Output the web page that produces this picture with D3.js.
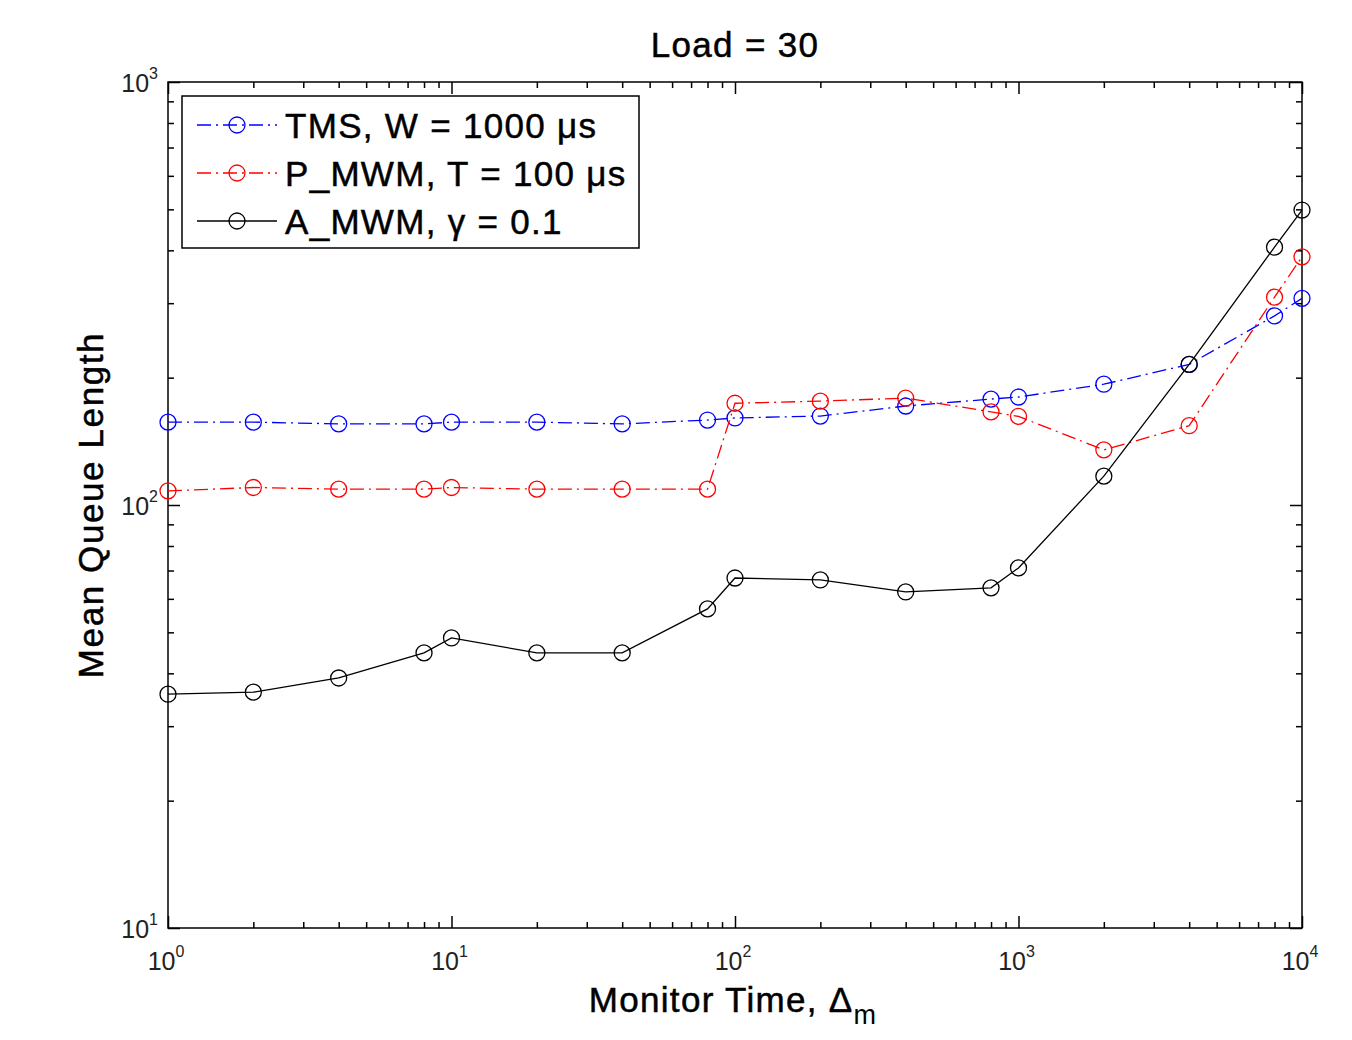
<!DOCTYPE html>
<html>
<head>
<meta charset="utf-8">
<style>
  body { margin: 0; background: #fff; font-family: "Liberation Sans", Arial, sans-serif; }
  .big { stroke: #000; stroke-width: 0.5px; letter-spacing: 1.3px; }
</style>
<title>Load = 30</title>
</head>
<body>
<script src="https://cdn.jsdelivr.net/npm/d3@7"></script>
<script>
// monitor time values (x) shared by all series
var monitorTime = [1, 2, 4, 8, 10, 20, 40, 80, 100, 200, 400, 800, 1000, 2000, 4000, 8000, 10000];
var tmsQueue   = [157, 157, 155.5, 155.5, 157, 157, 155.5, 158.8, 160.6, 162.3, 171.4, 178, 180, 193, 215, 280, 308];
var pmwmQueue  = [108, 110, 109, 109, 110, 109, 109, 109, 174, 176, 179, 166, 162, 135, 154, 310, 386];
var amwmQueue  = [35.7, 36.1, 39.0, 44.7, 48.5, 44.7, 44.7, 56.8, 67.2, 66.5, 62.3, 63.7, 71.0, 117, 215, 407, 498];
var seriesNames = ["TMS, W = 1000 \u03bcs", "P_MWM, T = 100 \u03bcs", "A_MWM, \u03b3 = 0.1"];
var xMajor = [1, 10, 100, 1000, 10000];
var yMajor = [10, 100, 1000];

var W = 1352, H = 1040;
var margin = {top: 82, right: 50, bottom: 112, left: 168};
var width = W - margin.left - margin.right,
    height = H - margin.top - margin.bottom;

var svg = d3.select("body").append("svg")
    .attr("width", W)
    .attr("height", H);

var g = svg.append("g")
    .attr("transform", "translate(" + margin.left + "," + margin.top + ")");

var x = d3.scaleLog().domain([1, 10000]).range([0, width]);
var y = d3.scaleLog().domain([10, 1000]).range([height, 0]);

// minor ticks for log scale
function minors(lo, hi) {
  var out = [];
  for (var d = lo; d < hi; d *= 10)
    for (var k = 2; k <= 9; k++) out.push(d * k);
  return out;
}
var xMinor = minors(1, 10000);
var yMinor = minors(10, 1000);

function tickAxis(axisFn, scale, vals, size, tr) {
  g.append("g")
    .attr("transform", tr)
    .call(axisFn(scale).tickValues(vals).tickSizeInner(size).tickSizeOuter(0).tickFormat(""))
    .call(a => a.select(".domain").remove())
    .selectAll("line").attr("stroke", "#000").attr("stroke-width", 1.5);
}
// ticks point inwards on all four sides
tickAxis(d3.axisBottom, x, xMajor, -12, "translate(0," + height + ")");
tickAxis(d3.axisBottom, x, xMinor, -6, "translate(0," + height + ")");
tickAxis(d3.axisTop, x, xMajor, -12, "translate(0,0)");
tickAxis(d3.axisTop, x, xMinor, -6, "translate(0,0)");
tickAxis(d3.axisLeft, y, yMajor, -12, "translate(0,0)");
tickAxis(d3.axisLeft, y, yMinor, -6, "translate(0,0)");
tickAxis(d3.axisRight, y, yMajor, -12, "translate(" + width + ",0)");
tickAxis(d3.axisRight, y, yMinor, -6, "translate(" + width + ",0)");

g.append("rect")
  .attr("width", width).attr("height", height)
  .attr("fill", "none").attr("stroke", "#000").attr("stroke-width", 1.5);

// tick labels as 10^n
xMajor.forEach(function(v) {
  var t = g.append("text")
    .attr("x", x(v) - 2).attr("y", height + 42)
    .attr("text-anchor", "middle")
    .attr("font-size", 25).attr("fill", "#222");
  t.append("tspan").text("10");
  t.append("tspan").attr("dy", -13).attr("font-size", 16).text(Math.round(Math.log10(v)));
});
yMajor.forEach(function(v) {
  var t = g.append("text")
    .attr("x", -10).attr("y", y(v) + 10)
    .attr("text-anchor", "end")
    .attr("font-size", 25).attr("fill", "#222");
  t.append("tspan").text("10");
  t.append("tspan").attr("dy", -13).attr("font-size", 16).text(Math.round(Math.log10(v)));
});

// title and axis labels
svg.append("text").attr("class", "big")
  .attr("x", margin.left + width / 2).attr("y", 57)
  .attr("text-anchor", "middle").attr("font-size", 35)
  .text("Load = 30");

var xl = svg.append("text").attr("class", "big")
  .attr("x", margin.left + width / 2 - 2).attr("y", 1012)
  .attr("text-anchor", "middle").attr("font-size", 35);
xl.append("tspan").text("Monitor Time, \u0394");
xl.append("tspan").attr("dy", 12).attr("font-size", 27).style("stroke-width", "0px").text("m");

svg.append("text").attr("class", "big")
  .attr("transform", "translate(103," + (margin.top + height / 2) + ") rotate(-90)")
  .attr("text-anchor", "middle").attr("font-size", 35)
  .style("letter-spacing", "1.6px")
  .text("Mean Queue Length");

var series = [
  {name: seriesNames[0], vals: tmsQueue,  color: "#0000ff", dash: "14,5,2,5"},
  {name: seriesNames[1], vals: pmwmQueue, color: "#ff0000", dash: "14,5,2,5"},
  {name: seriesNames[2], vals: amwmQueue, color: "#000000", dash: null}
];

var line = d3.line()
  .x(function(d) { return x(d[0]); })
  .y(function(d) { return y(d[1]); });

series.forEach(function(s) {
  var pts = monitorTime.map(function(t, i) { return [t, s.vals[i]]; });
  g.append("path").datum(pts)
    .attr("d", line)
    .attr("fill", "none")
    .attr("stroke", s.color)
    .attr("stroke-width", 1.3)
    .attr("stroke-dasharray", s.dash);
  g.selectAll(null).data(pts).enter().append("circle")
    .attr("cx", function(d) { return x(d[0]); })
    .attr("cy", function(d) { return y(d[1]); })
    .attr("r", 8)
    .attr("fill", "none")
    .attr("stroke", s.color)
    .attr("stroke-width", 1.3);
});

// legend
var legend = svg.append("g").attr("transform", "translate(182,96)");
legend.append("rect")
  .attr("width", 457).attr("height", 152)
  .attr("fill", "#fff").attr("stroke", "#000").attr("stroke-width", 1.5);
series.forEach(function(s, i) {
  var yy = 29 + i * 48;
  legend.append("line")
    .attr("x1", 15).attr("x2", 95).attr("y1", yy).attr("y2", yy)
    .attr("stroke", s.color).attr("stroke-width", 1.3)
    .attr("stroke-dasharray", s.dash);
  legend.append("circle")
    .attr("cx", 55).attr("cy", yy).attr("r", 8)
    .attr("fill", "none").attr("stroke", s.color).attr("stroke-width", 1.3);
  legend.append("text").attr("class", "big")
    .attr("x", 103).attr("y", yy + 13)
    .attr("font-size", 35)
    .text(s.name);
});
</script>
</body>
</html>
